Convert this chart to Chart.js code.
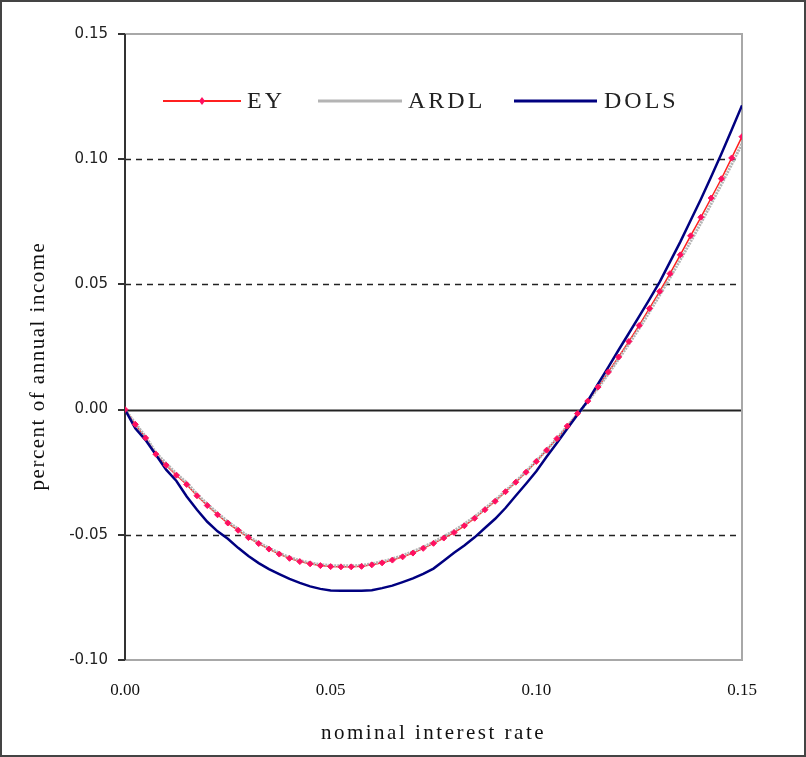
<!DOCTYPE html>
<html>
<head>
<meta charset="utf-8">
<script src="https://cdn.jsdelivr.net/npm/chart.js@4.4.1/dist/chart.umd.min.js"></script>
<style>
  html, body { margin: 0; padding: 0; background: #fff; }
  #wrap { width: 806px; height: 757px; }
</style>
</head>
<body>
<div id="wrap"><canvas id="rateChart" width="806" height="757"></canvas></div>
<script>
// nominal interest rate (x)
const rates = [
  0.0000, 0.0025, 0.0050, 0.0075, 0.0100, 0.0125, 0.0150, 0.0175, 0.0200, 0.0225,
  0.0250, 0.0275, 0.0300, 0.0325, 0.0350, 0.0375, 0.0400, 0.0425, 0.0450, 0.0475,
  0.0500, 0.0525, 0.0550, 0.0575, 0.0600, 0.0625, 0.0650, 0.0675, 0.0700, 0.0725,
  0.0750, 0.0775, 0.0800, 0.0825, 0.0850, 0.0875, 0.0900, 0.0925, 0.0950, 0.0975,
  0.1000, 0.1025, 0.1050, 0.1075, 0.1100, 0.1125, 0.1150, 0.1175, 0.1200, 0.1225,
  0.1250, 0.1275, 0.1300, 0.1325, 0.1350, 0.1375, 0.1400, 0.1425, 0.1450, 0.1475,
  0.1500
];

const ey = [
  0.0000, -0.0059, -0.0113, -0.0178, -0.0222, -0.0262, -0.0299, -0.0344, -0.0383, -0.0420,
  -0.0453, -0.0482, -0.0511, -0.0535, -0.0557, -0.0577, -0.0594, -0.0607, -0.0616, -0.0623,
  -0.0627, -0.0628, -0.0628, -0.0626, -0.0620, -0.0612, -0.0601, -0.0588, -0.0573, -0.0554,
  -0.0534, -0.0513, -0.0491, -0.0464, -0.0434, -0.0400, -0.0366, -0.0328, -0.0290, -0.0250,
  -0.0207, -0.0162, -0.0116, -0.0066, -0.0016, 0.0034, 0.0090, 0.0150, 0.0210, 0.0272,
  0.0336, 0.0404, 0.0472, 0.0543, 0.0618, 0.0694, 0.0768, 0.0845, 0.0922, 0.1005,
  0.1090
];

const ardl = [
  0.0000, -0.0055, -0.0108, -0.0172, -0.0215, -0.0256, -0.0292, -0.0338, -0.0377, -0.0414,
  -0.0447, -0.0477, -0.0507, -0.0531, -0.0553, -0.0573, -0.0590, -0.0603, -0.0612, -0.0619,
  -0.0623, -0.0624, -0.0624, -0.0622, -0.0616, -0.0607, -0.0596, -0.0583, -0.0567, -0.0549,
  -0.0529, -0.0507, -0.0484, -0.0457, -0.0428, -0.0395, -0.0361, -0.0325, -0.0287, -0.0247,
  -0.0205, -0.0161, -0.0115, -0.0067, -0.0018, 0.0032, 0.0086, 0.0143, 0.0202, 0.0262,
  0.0324, 0.0390, 0.0458, 0.0527, 0.0598, 0.0671, 0.0745, 0.0822, 0.0900, 0.0980,
  0.1062
];

const dols = [
  0.0000, -0.0075, -0.0122, -0.0180, -0.0240, -0.0285, -0.0347, -0.0400, -0.0448, -0.0486,
  -0.0516, -0.0552, -0.0585, -0.0613, -0.0637, -0.0657, -0.0676, -0.0692, -0.0706, -0.0716,
  -0.0722, -0.0723, -0.0723, -0.0723, -0.0721, -0.0713, -0.0703, -0.0689, -0.0674, -0.0656,
  -0.0635, -0.0604, -0.0572, -0.0543, -0.0510, -0.0473, -0.0436, -0.0393, -0.0344, -0.0296,
  -0.0246, -0.0188, -0.0133, -0.0077, -0.0021, 0.0035, 0.0103, 0.0170, 0.0238, 0.0305,
  0.0372, 0.0440, 0.0510, 0.0590, 0.0670, 0.0755, 0.0840, 0.0930, 0.1022, 0.1118,
  0.1215
];

const xTicks = [0.00, 0.05, 0.10, 0.15];
const yTicks = [-0.10, -0.05, 0.00, 0.05, 0.10, 0.15];

const seriesNames = ["EY", "ARDL", "DOLS"];
const seriesColors = ["#ff2020", "#b4b4b4", "#000080"];
const markerColor = "#ff1060";
const xTitle = "nominal interest rate";
const yTitle = "percent of annual income";

const toPoints = vals => vals.map((v, i) => ({ x: rates[i], y: v }));

// frame, dashed grid lines, zero line
const framePlugin = {
  id: "frame",
  beforeDatasetsDraw(chart) {
    const { ctx, chartArea: a, scales } = chart;
    ctx.save();
    yTicks.forEach(v => {
      if (v === yTicks[0] || v === yTicks[yTicks.length - 1]) return;
      const y = Math.round(scales.y.getPixelForValue(v)) + 0.5;
      ctx.beginPath();
      if (v === 0) {
        ctx.setLineDash([]);
        ctx.strokeStyle = "#222";
        ctx.lineWidth = 2;
      } else {
        ctx.setLineDash([6, 5]);
        ctx.strokeStyle = "#222";
        ctx.lineWidth = 1.6;
      }
      ctx.moveTo(a.left, y);
      ctx.lineTo(a.right, y);
      ctx.stroke();
    });
    ctx.setLineDash([]);
    ctx.strokeStyle = "#a8a8a8";
    ctx.lineWidth = 2;
    ctx.beginPath();
    ctx.moveTo(a.left, a.top);
    ctx.lineTo(a.right, a.top);
    ctx.lineTo(a.right, a.bottom);
    ctx.lineTo(a.left, a.bottom);
    ctx.stroke();
    ctx.strokeStyle = "#333";
    ctx.beginPath();
    ctx.moveTo(a.left, a.top);
    ctx.lineTo(a.left, a.bottom);
    ctx.stroke();
    ctx.restore();
  },
  afterDraw(chart) {
    const { ctx, chartArea: a } = chart;
    ctx.save();
    // axis titles (spaced out like the original)
    ctx.fillStyle = "#111";
    ctx.font = "21px 'Liberation Serif'";
    ctx.textAlign = "center";
    ctx.textBaseline = "middle";
    ctx.letterSpacing = "2.5px";
    ctx.fillText(xTitle, (a.left + a.right) / 2, 733);
    ctx.translate(38, 366);
    ctx.rotate(-Math.PI / 2);
    ctx.letterSpacing = "1.5px";
    ctx.fillText(yTitle, 0, 0);
    ctx.restore();

    ctx.save();
    ctx.strokeStyle = "#444";
    ctx.lineWidth = 2;
    ctx.strokeRect(1, 1, chart.width - 2, chart.height - 2);
    ctx.restore();
  }
};

// legend inside the plot
const legendPlugin = {
  id: "insideLegend",
  afterDatasetsDraw(chart) {
    const ctx = chart.ctx;
    const y = 101;
    const items = [
      { x0: 163, x1: 241, tx: 247 },
      { x0: 318, x1: 402, tx: 408 },
      { x0: 514, x1: 597, tx: 604 }
    ];
    ctx.save();
    ctx.font = "24px 'Liberation Serif'";
    ctx.letterSpacing = "3px";
    ctx.textBaseline = "middle";
    items.forEach((it, i) => {
      ctx.strokeStyle = seriesColors[i];
      ctx.lineWidth = i === 0 ? 2 : 3;
      ctx.beginPath();
      ctx.moveTo(it.x0, y);
      ctx.lineTo(it.x1, y);
      ctx.stroke();
      if (i === 0) {
        const mx = (it.x0 + it.x1) / 2;
        ctx.fillStyle = markerColor;
        ctx.beginPath();
        ctx.moveTo(mx, y - 4);
        ctx.lineTo(mx + 3, y);
        ctx.lineTo(mx, y + 4);
        ctx.lineTo(mx - 3, y);
        ctx.closePath();
        ctx.fill();
      }
      ctx.fillStyle = "#222";
      ctx.fillText(seriesNames[i], it.tx, y + 1);
    });
    ctx.restore();
  }
};

new Chart(document.getElementById("rateChart").getContext("2d"), {
  type: "line",
  data: {
    datasets: [
      {
        label: "EY markers",
        data: toPoints(ey),
        showLine: false,
        pointStyle: "rectRot",
        pointRadius: 3,
        pointBackgroundColor: markerColor,
        pointBorderColor: markerColor,
        pointBorderWidth: 1,
        order: 0
      },
      {
        label: "DOLS",
        data: toPoints(dols),
        borderColor: seriesColors[2],
        borderWidth: 2.5,
        pointRadius: 0,
        tension: 0,
        order: 1
      },
      {
        label: "ARDL",
        data: toPoints(ardl),
        borderColor: seriesColors[1],
        borderWidth: 3,
        borderDash: [2, 1],
        pointRadius: 0,
        tension: 0,
        order: 2
      },
      {
        label: "EY",
        data: toPoints(ey),
        borderColor: seriesColors[0],
        borderWidth: 1.5,
        pointRadius: 0,
        tension: 0,
        order: 3
      }
    ]
  },
  options: {
    responsive: false,
    devicePixelRatio: 1,
    animation: false,
    layout: { padding: { top: 34, right: 64, left: 0, bottom: 0 } },
    plugins: {
      legend: { display: false },
      tooltip: { enabled: false }
    },
    scales: {
      x: {
        type: "linear",
        min: 0,
        max: 0.15,
        afterFit: s => { s.height = 97; },
        afterBuildTicks: s => { s.ticks = xTicks.map(v => ({ value: v })); },
        grid: { display: false },
        border: { display: false },
        ticks: {
          padding: 12,
          color: "#111",
          font: { family: "'Liberation Serif'", size: 17 },
          callback: v => v.toFixed(2)
        }
      },
      y: {
        min: -0.1,
        max: 0.15,
        afterFit: s => { s.width = 125; },
        afterBuildTicks: s => { s.ticks = yTicks.map(v => ({ value: v })); },
        grid: { drawOnChartArea: false, drawTicks: true, tickLength: 7, color: "#333", lineWidth: 2 },
        border: { display: false },
        ticks: {
          padding: 10,
          color: "#222",
          font: { family: "'DejaVu Sans'", size: 15 },
          callback: v => v.toFixed(2)
        }
      }
    }
  },
  plugins: [framePlugin, legendPlugin]
});
</script>
</body>
</html>
